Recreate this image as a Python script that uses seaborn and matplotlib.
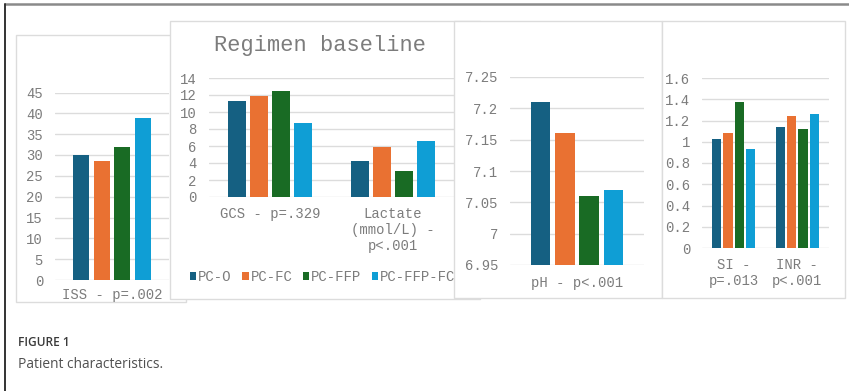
import matplotlib
matplotlib.use("Agg")
import matplotlib.pyplot as plt
from matplotlib.patches import Rectangle
from matplotlib.lines import Line2D
import pandas as pd
import seaborn as sns

# Regimen groups and their colours
regimens = ["PC-O", "PC-FC", "PC-FFP", "PC-FFP-FC"]
regimen_colors = ["#156082", "#E97132", "#196B24", "#0F9ED5"]

# Baseline values per measure (one value per regimen)
iss = [30.0, 28.5, 32.0, 39.0]
gcs = [11.3, 11.9, 12.5, 8.7]
lactate = [4.2, 5.9, 3.1, 6.6]
ph = [7.21, 7.16, 7.06, 7.07]
si = [1.03, 1.08, 1.37, 0.93]
inr = [1.14, 1.24, 1.12, 1.26]

# Category labels for each panel
iss_labels = ["ISS - p=.002"]
gcs_lac_labels = ["GCS - p=.329", "Lactate\n(mmol/L) -\np<.001"]
ph_labels = ["pH - p<.001"]
si_inr_labels = ["SI -\np=.013", "INR -\np<.001"]

# Y tick labels per panel
iss_ticks = [0, 5, 10, 15, 20, 25, 30, 35, 40, 45]
gcs_lac_ticks = [0, 2, 4, 6, 8, 10, 12, 14]
ph_ticks = [6.95, 7.0, 7.05, 7.1, 7.15, 7.2, 7.25]
ph_tick_text = ["6.95", "7", "7.05", "7.1", "7.15", "7.2", "7.25"]
si_inr_ticks = [0, 0.2, 0.4, 0.6, 0.8, 1.0, 1.2, 1.4, 1.6]
si_inr_tick_text = ["0", "0.2", "0.4", "0.6", "0.8", "1", "1.2", "1.4", "1.6"]

sns.set_style("white")
plt.rcParams["font.family"] = ["Liberation Mono", "DejaVu Sans"]

W, H = 849, 391
fig = plt.figure(figsize=(W / 100, H / 100), dpi=100)
fig.patch.set_facecolor("white")

TEXT = "#7c7c7c"
GRID = "#DCDCDC"
FS = 10


def frac_rect(x0, y0, x1, y1):
    return [x0 / W, 1 - y1 / H, (x1 - x0) / W, (y1 - y0) / H]


def add_box(x0, y0, x1, y1, z):
    r = Rectangle((x0 / W, 1 - y1 / H), (x1 - x0) / W, (y1 - y0) / H,
                  transform=fig.transFigure, facecolor="white",
                  edgecolor=GRID, linewidth=1.0, zorder=z)
    fig.add_artist(r)


def long_frame(labels, series):
    rows = []
    for lab, vals in zip(labels, series):
        for reg, v in zip(regimens, vals):
            rows.append({"measure": lab, "regimen": reg, "value": v})
    return pd.DataFrame(rows)


def bar_panel(rect, z, labels, series, ylim, ticks, tick_text, xpad):
    ax = fig.add_axes(frac_rect(*rect))
    ax.set_zorder(z)
    df = long_frame(labels, series)
    sns.barplot(data=df, x="measure", y="value", hue="regimen",
                order=labels, hue_order=regimens, palette=regimen_colors,
                width=0.72, gap=0.2, saturation=1, errorbar=None,
                linewidth=0, ax=ax, legend=True)
    ax.set_ylim(*ylim)
    ax.set_yticks(ticks)
    ax.set_yticklabels(tick_text if tick_text else [str(t) for t in ticks])
    ax.set_xticks(range(len(labels)))
    ax.set_xticklabels(labels, linespacing=1.2)
    ax.set_xlabel("")
    ax.set_ylabel("")
    ax.yaxis.grid(True, color=GRID, linewidth=1.0)
    ax.set_axisbelow(True)
    for s in ax.spines.values():
        s.set_visible(False)
    ax.tick_params(axis="y", length=0, pad=8.6, labelsize=FS, labelcolor=TEXT)
    ax.tick_params(axis="x", length=0, pad=xpad, labelsize=FS, labelcolor=TEXT)
    ax.set_facecolor("none")
    handles, labs = ax.get_legend_handles_labels()
    ax.get_legend().remove()
    return ax, handles, labs


# Outer frame
fig.add_artist(Line2D([5 / W, 1], [1 - 4 / H, 1 - 4 / H], transform=fig.transFigure,
                      color="#8a8a8a", linewidth=1.8, zorder=1))
fig.add_artist(Line2D([5 / W, 5 / W], [1 - 4 / H, 0], transform=fig.transFigure,
                      color="#333333", linewidth=1.4, zorder=1))

# Panel 1: ISS
add_box(16, 35, 186, 302, 10)
bar_panel((55, 92.5, 169, 280), 11, iss_labels, [iss], (0, 45),
          iss_ticks, None, 5.8)

# Panel 2: GCS and lactate
add_box(170, 21, 480, 299, 20)
ax2, handles, labs = bar_panel((208.5, 78, 454.5, 197), 21, gcs_lac_labels,
                               [gcs, lactate], (0, 14), gcs_lac_ticks, None, 7.2)
fig.text(320 / W, 1 - 45 / H, "Regimen baseline", ha="center", va="center",
         fontsize=15.8, color=TEXT, zorder=22)
ax2.legend(handles, labs, loc="center left",
           bbox_to_anchor=(190 / W, 1 - 277 / H), bbox_transform=fig.transFigure,
           ncol=4, frameon=False, handlelength=0.45, handleheight=0.45,
           handletextpad=0.15, columnspacing=0.75, borderpad=0, borderaxespad=0,
           fontsize=FS, labelcolor=TEXT)

# Panel 3: pH
add_box(454, 21, 662, 298, 30)
bar_panel((510, 77, 644, 265), 31, ph_labels, [ph], (6.95, 7.25),
          ph_ticks, ph_tick_text, 7.6)

# Panel 4: SI and INR
add_box(662, 21, 845, 298, 40)
bar_panel((702, 78, 829, 248), 41, si_inr_labels, [si, inr], (0, 1.6),
          si_inr_ticks, si_inr_tick_text, 7.2)

# Caption
fig.text(18 / W, 1 - 343 / H, "FIGURE 1", ha="left", va="center",
         fontsize=8.6, fontweight="semibold", color="#3a3a3a",
         family=["Open Sans", "DejaVu Sans"])
fig.text(18 / W, 1 - 365 / H, "Patient characteristics.", ha="left", va="center",
         fontsize=9.9, color="#505050", family=["Open Sans", "DejaVu Sans"])

fig.savefig("out.png", dpi=100)
